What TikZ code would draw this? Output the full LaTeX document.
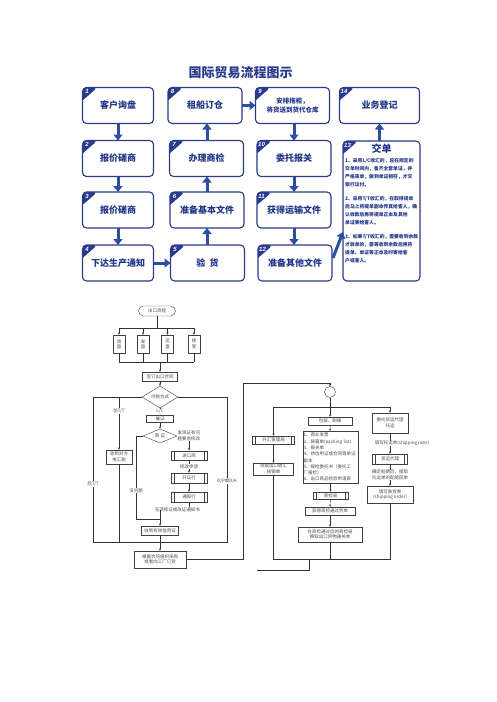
\documentclass[tikz,border=0pt]{standalone}
\usepackage{fontspec}
\setmainfont{Noto Sans CJK SC}
\newfontfamily\numfont{Liberation Sans}
\usetikzlibrary{shapes,arrows,positioning,calc,shapes.geometric,arrows.meta}

\definecolor{navy}{HTML}{2A3A8C}
\definecolor{arrowblue}{HTML}{2C4DA0}
\definecolor{txtblue}{HTML}{22368A}
\definecolor{flowgray}{HTML}{4A4A4A}

\tikzset{
  stepcard/.style={draw=navy, line width=1.1pt, rounded corners=4pt, fill=white, outer sep=0pt,
    minimum height=36pt, font=\fontsize{9}{11}\selectfont\bfseries, text=txtblue, align=center},
  bigarrow/.style={-{Triangle[length=6pt,width=9pt]}, line width=3pt, arrowblue},
  flowbox/.style={draw=black!75, line width=0.4pt, font=\fontsize{4.5}{5.5}\selectfont,
    text=flowgray, align=center, inner sep=0.8pt},
  procbox/.style={flowbox, path picture={
      \draw[black!75, line width=0.4pt] ([xshift=3pt]path picture bounding box.north west) -- ([xshift=3pt]path picture bounding box.south west);
      \draw[black!75, line width=0.4pt] ([xshift=-3pt]path picture bounding box.north east) -- ([xshift=-3pt]path picture bounding box.south east);}},
  choice/.style={flowbox, diamond, inner sep=0pt},
  flowline/.style={black!80, line width=0.4pt},
  flowarrow/.style={flowline, -{Stealth[length=2.4pt,width=2pt]}},
  flowtag/.style={fill=white, inner sep=0.5pt, font=\fontsize{4.5}{5.5}\selectfont, text=flowgray, align=center}
}

% corner badge with the step number
\newcommand{\stepno}[2]{%
  \fill[navy] ($(#1.north west)+(15,0)$) -- ($(#1.north west)+(0,13)$) [rounded corners=4pt] -- (#1.north west) -- cycle;
  \node[font=\numfont\fontsize{6}{6}\selectfont\bfseries\itshape, text=white] at ($(#1.north west)+(4.5,4)$) {#2};}

\begin{document}
\begin{tikzpicture}[x=1pt, y=-1pt]
    \useasboundingbox[fill=white] (0,0) rectangle (496,702);

    % ---------- top: 14 steps ----------
    \node[font=\fontsize{13}{13}\selectfont\bfseries, text=navy] (title) at (240.5,73) {国际贸易流程图示};

    \node[stepcard, minimum width=71pt] (s1) at (118,105.5) {客户询盘};
    \node[stepcard, minimum width=71pt] (s2) at (118,158.5) {报价磋商};
    \node[stepcard, minimum width=71pt] (s3) at (118,210) {报价磋商};
    \node[stepcard, minimum width=71pt] (s4) at (118,263) {下达生产通知};
    \node[stepcard, minimum width=74pt] (s5) at (207.5,263) {验\ \ 货};
    \node[stepcard, minimum width=74pt] (s6) at (207,210) {准备基本文件};
    \node[stepcard, minimum width=74pt] (s7) at (206.5,158.5) {办理商检};
    \node[stepcard, minimum width=74pt] (s8) at (205,105.5) {租船订仓};
    \node[stepcard, minimum width=74pt, font=\fontsize{6.5}{9}\selectfont\bfseries] (s9) at (292.5,105.5) {安排拖柜，\\将货送到货代仓库};
    \node[stepcard, minimum width=74pt] (s10) at (294,158.5) {委托报关};
    \node[stepcard, minimum width=74pt] (s11) at (294,210) {获得运输文件};
    \node[stepcard, minimum width=74pt] (s12) at (295,263) {准备其他文件};
    \node[stepcard, minimum width=80pt] (s14) at (379.5,105.5) {业务登记};
    \node[stepcard, minimum width=77pt, minimum height=140pt] (s13) at (381.5,211) {};

    \foreach \s/\n in {s1/1,s2/2,s3/3,s4/4,s5/5,s6/6,s7/7,s8/8,s9/9,s10/10,s11/11,s12/12,s13/13,s14/14}
        \stepno{\s}{\n};

    \node[font=\fontsize{10}{10}\selectfont\bfseries, text=txtblue] (hand) at (381.5,149) {交单};
    \node[anchor=north west, inner sep=0pt, align=left, text=txtblue, font=\fontsize{4.8}{8}\selectfont\bfseries] (p1) at (345,158.5)
        {1、采用L/C收汇的，应在规定的\\交单时间内，备齐全套单证，并\\严格审单，做到单证相符，才交\\银行议付。};
    \node[anchor=north west, inner sep=0pt, align=left, text=txtblue, font=\fontsize{4.8}{8}\selectfont\bfseries] (p2) at (345,196.5)
        {2、采用T/T收汇的，在取得提单\\后马上将提单副本传真给客人，确\\认收款后再将提单正本及其他\\单证寄给客人。};
    \node[anchor=north west, inner sep=0pt, align=left, text=txtblue, font=\fontsize{4.8}{8}\selectfont\bfseries] (p3) at (345,234.5)
        {3、如果T/T收汇的，需要收到余款\\才放单的，需等收到余款后再将\\提单、单证等正本及时寄给客\\户或客人。};

    \draw[bigarrow] (s1) -- (s2);
    \draw[bigarrow] (s2) -- (s3);
    \draw[bigarrow] (s3) -- (s4);
    \draw[bigarrow] (s4) -- (s5);
    \draw[bigarrow] (s5.north -| s6) -- (s6);
    \draw[bigarrow] (s6) -- (s7.south -| s6);
    \draw[bigarrow] (s7.north -| s6) -- (s8.south -| s6);
    \draw[bigarrow] (s8.east |- s9) -- (s9);
    \draw[bigarrow] (s9.south -| s10) -- (s10);
    \draw[bigarrow] (s10) -- (s11.north -| s10);
    \draw[bigarrow] (s11.south -| s10) -- (s12.north -| s10);
    \draw[bigarrow] ($(s12.east)+(1,-5)$) -- ($(s13.west)+(0,21)$);
    \draw[bigarrow] (s13.north -| s14) -- (s14);

    % ---------- bottom left: export flow ----------
    \node[flowbox, rounded corners=5pt, minimum width=37pt, minimum height=10pt] (start) at (157,311) {出口流程};
    \node[flowbox, minimum width=12pt, minimum height=18pt] (q1) at (119,344) {询\\盘};
    \node[flowbox, minimum width=12pt, minimum height=18pt] (q2) at (143,344) {发\\盘};
    \node[flowbox, minimum width=12pt, minimum height=18pt] (q3) at (167.5,344) {还\\盘};
    \node[flowbox, minimum width=12pt, minimum height=18pt] (q4) at (194,344) {接\\受};
    \coordinate (topbar) at (157,328);
    \coordinate (botbar) at (160,362);
    \draw[flowline] (start) -- (topbar);
    \draw[flowline] (q1|-topbar) -- (q4|-topbar);
    \draw[flowline] (q1|-botbar) -- (q4|-botbar);
    \foreach \q in {q1,q2,q3,q4} {
        \draw[flowarrow] (\q|-topbar) -- (\q);
        \draw[flowline] (\q) -- (\q|-botbar);
    }

    \node[flowbox, minimum width=35pt, minimum height=9pt] (contract) at (160,376.5) {签订出口合同};
    \node[choice, minimum width=36pt, minimum height=11pt] (pay) at (160,397) {付款方式};
    \node[flowbox, minimum width=27pt, minimum height=7.5pt] (urge) at (160,418.5) {催证};
    \node[choice, minimum width=34pt, minimum height=14pt] (check) at (160,436) {审\ 证};
    \node[flowtag, anchor=west, inner sep=0.3pt] (fix) at (check.east) {发现证有问\\题要求修改};
    \node[procbox, minimum width=36pt, minimum height=9.5pt] (importer) at (189,455.5) {进口商};
    \node[procbox, minimum width=36pt, minimum height=10pt] (issuing) at (189,478) {开证行};
    \node[procbox, minimum width=36pt, minimum height=10pt] (advising) at (189,497) {通知行};
    \node[flowbox, minimum width=37pt, minimum height=9pt] (valid) at (160,530.5) {收到有效信用证};
    \node[flowbox, minimum width=26pt, minimum height=14pt] (tt) at (119,457) {收到对方\\电汇款};
    \node[flowbox, minimum width=52pt, minimum height=17pt] (order) at (160,559.5) {根据合同组织采购\\或者向工厂订货};

    \coordinate (postTT) at (93,397);
    \coordinate (preTT) at (119,397);
    \coordinate (dpda) at (227,397);
    \coordinate (merge) at (160,542);
    \coordinate (joinA) at (160,509.5);
    \coordinate (okcorner) at (136,519);
    \coordinate (joinB) at (160,519);

    \draw[flowarrow] (botbar) -- (contract);
    \draw[flowarrow] (contract) -- (pay);
    \draw[flowarrow] (pay) -- node[flowtag]{L/C} (urge);
    \draw[flowarrow] (urge) -- (check);
    \draw[flowarrow] (fix.south -| importer) -- (importer);
    \draw[flowarrow] (importer) -- node[flowtag]{修改申请} (issuing);
    \draw[flowarrow] (issuing) -- (advising);
    \draw[flowline] (advising) |- node[flowtag, pos=0.7]{无须修证或改证通知书} (joinA);
    \draw[flowline] (check.west) -| node[flowtag, pos=0.83]{没问题} (okcorner) -- (joinB);
    \draw[flowarrow] (joinA) -- (valid);
    \draw[flowline] (pay.west) -- (postTT) -- node[flowtag, pos=0.6]{后T/T} (postTT|-merge) -- (merge);
    \draw[flowarrow] (preTT) -- node[flowtag, pos=0.27]{前T/T} (tt);
    \draw[flowline] (tt) -- (tt|-merge);
    \draw[flowline] (pay.east) -- (dpda) -- node[flowtag, pos=0.58]{D/P或D/A} (dpda|-merge) -- (merge);
    \draw[flowline] (valid) -- (merge);
    \draw[flowarrow] (merge) -- (order);

    % ---------- bottom right: shipping ----------
    \node[draw=black!75, line width=0.4pt, circle, minimum size=11pt, inner sep=0pt] (hub) at (330,392) {};
    \coordinate (upcorner) at (243,383);
    \draw[flowarrow] (order.east) -| (upcorner) -| (hub);

    \node[procbox, minimum width=42pt, minimum height=8pt] (forex) at (273.5,440) {外汇管理局};
    \node[flowbox, minimum width=40pt, minimum height=12pt] (verif) at (273.5,469) {领取出口收汇\\核销单};
    \node[flowbox, minimum width=44pt, minimum height=8pt] (pack) at (330,421) {包装、刷唛};
    \node[flowbox, anchor=north, text width=54pt, minimum height=52pt, align=left, font=\fontsize{4.5}{6.3}\selectfont] (docs) at (330.5,431)
        {1、商业发票\\2、装箱单(packing list)\\3、报关单\\4、持信用证或合同等单证\\副本\\5、报检委托书（委托工\\厂报检）\\6、出口商品检验申请表};
    \node[procbox, minimum width=35pt, minimum height=7pt] (cib) at (330.5,495.5) {商检局};
    \node[flowbox, minimum width=50pt, minimum height=8pt] (pass) at (330,511) {获得商检通过凭单};
    \node[flowbox, minimum width=64pt, minimum height=15pt] (clear) at (330,534.5) {在商检通过后的商检局\\换取出口货物通关单};
    \node[flowbox, minimum width=36pt, minimum height=20pt] (agentreq) at (390,423) {委托货运代理\\托运};
    \node[procbox, minimum width=35pt, minimum height=10pt] (agent) at (390,459) {货运代理};
    \node[flowbox, minimum width=46pt, minimum height=17pt] (so) at (390,494.5) {填写装货单\\（shipping order）};

    \coordinate (split) at (330,407);
    \coordinate (bottomL) at (273.5,559);
    \coordinate (tailTop) at (309,559);
    \coordinate (tailBot) at (309,570);
    \coordinate (tailEnd) at (257,570);

    \draw[flowline] (hub) -- (split);
    \draw[flowline] (forex|-split) -- (agentreq|-split);
    \draw[flowarrow] (forex|-split) -- (forex);
    \draw[flowarrow] (split) -- (pack);
    \draw[flowarrow] (agentreq|-split) -- (agentreq);
    \draw[flowarrow] (forex) -- (verif);
    \draw[flowarrow] (pack) -- (docs);
    \draw[flowarrow] (docs) -- (cib);
    \draw[flowarrow] (cib) -- (pass);
    \draw[flowarrow] (pass) -- (clear);
    \draw[flowarrow] (agentreq) -- node[flowtag, xshift=12pt]{填写托运单(shipping note)} (agent);
    \draw[flowarrow] (agent) -- node[flowtag]{确定船期后，提取\\托运单的配舱回单} (so);
    \draw[flowline] (verif) -- (bottomL) -- (so|-bottomL) -- (so);
    \draw[flowline] (clear) -- (clear|-bottomL);
    \draw[flowline] (tailTop) -- (tailBot) -- (tailEnd);
\end{tikzpicture}
\end{document}
